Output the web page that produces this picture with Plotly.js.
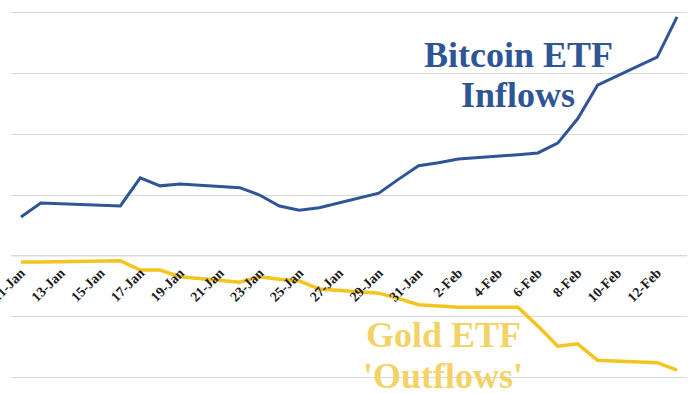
<!DOCTYPE html>
<html>
<head>
<meta charset="utf-8">
<script src="https://cdn.plot.ly/plotly-3.0.1.min.js"></script>
<style>html,body{margin:0;padding:0;background:#fff;}#chart{width:700px;height:394px;}</style>
</head>
<body>
<div id="chart"></div>
<script>
// Trading days
const dates = ['2024-01-11','2024-01-12','2024-01-16','2024-01-17','2024-01-18','2024-01-19',
  '2024-01-22','2024-01-23','2024-01-24','2024-01-25','2024-01-26','2024-01-29','2024-01-30',
  '2024-01-31','2024-02-01','2024-02-02','2024-02-05','2024-02-06','2024-02-07','2024-02-08',
  '2024-02-09','2024-02-12','2024-02-13'];
const bitcoinInflows = [0.64,0.87,0.82,1.28,1.15,1.18,1.12,1.00,0.82,0.75,0.79,1.03,1.26,
  1.48,1.53,1.59,1.66,1.69,1.85,2.25,2.80,3.26,3.92];
const goldOutflows = [-0.10,-0.10,-0.08,-0.23,-0.23,-0.34,-0.43,-0.34,-0.38,-0.41,-0.54,-0.61,-0.70,
  -0.80,-0.82,-0.84,-0.84,-1.15,-1.48,-1.44,-1.71,-1.75,-1.87];
const bitcoinLabel = ['Bitcoin ETF','Inflows'];
const goldLabel = ['Gold ETF',"'Outflows'"];

const blue = '#2F5597';
const gold = '#F4C41F';
const goldText = '#F3D267';
const gridColor = '#D9D9D9';
const serif = 'Liberation Serif, Times New Roman, serif';

const traces = [
  {x: dates, y: bitcoinInflows, type: 'scatter', mode: 'lines', name: 'Bitcoin ETF Inflows',
   line: {color: blue, width: 3}},
  {x: dates, y: goldOutflows, type: 'scatter', mode: 'lines', name: "Gold ETF 'Outflows'",
   line: {color: gold, width: 3.5}}
];

const annFont = (c) => ({family: serif, size: 36, color: c, weight: 'bold'});
const layout = {
  width: 700, height: 394,
  margin: {l: 11, r: 13, t: 9, b: 13},
  paper_bgcolor: '#fff', plot_bgcolor: '#fff',
  showlegend: false,
  xaxis: {
    type: 'date',
    range: ['2024-01-10 12:00', '2024-02-13 12:00'],
    tick0: '2024-01-11', dtick: 2 * 86400000,
    tickformat: '%-d-%b', tickangle: -45,
    anchor: 'free', position: 2.05/6.1,
    showgrid: false, showline: false, zeroline: false, ticks: '',
    ticklabelstandoff: 5, ticklabeloverflow: 'allow',
    tickfont: {family: serif, size: 14, color: '#1a1a1a', weight: 'bold'}
  },
  yaxis: {
    range: [-2.05, 4.05], dtick: 1, tick0: 0,
    showticklabels: false, gridcolor: gridColor, gridwidth: 1,
    zeroline: false, showline: false, ticks: ''
  },
  shapes: [
    {type: 'line', xref: 'paper', yref: 'y', x0: 0, x1: 1, y0: 0, y1: 0,
     line: {color: gridColor, width: 1}, layer: 'below'}
  ],
  annotations: [
    {x: '2024-02-05', y: 3.30, xref: 'x', yref: 'y', text: bitcoinLabel[0], showarrow: false, font: annFont(blue)},
    {x: '2024-02-05', y: 2.64, xref: 'x', yref: 'y', text: bitcoinLabel[1], showarrow: false, font: annFont(blue)},
    {x: '2024-02-01 06:00', y: -1.30, xref: 'x', yref: 'y', text: goldLabel[0], showarrow: false, font: annFont(goldText)},
    {x: '2024-02-01 06:00', y: -1.97, xref: 'x', yref: 'y', text: goldLabel[1], showarrow: false, font: annFont(goldText)}
  ]
};

Plotly.newPlot('chart', traces, layout, {displayModeBar: false, staticPlot: true});
</script>
</body>
</html>
